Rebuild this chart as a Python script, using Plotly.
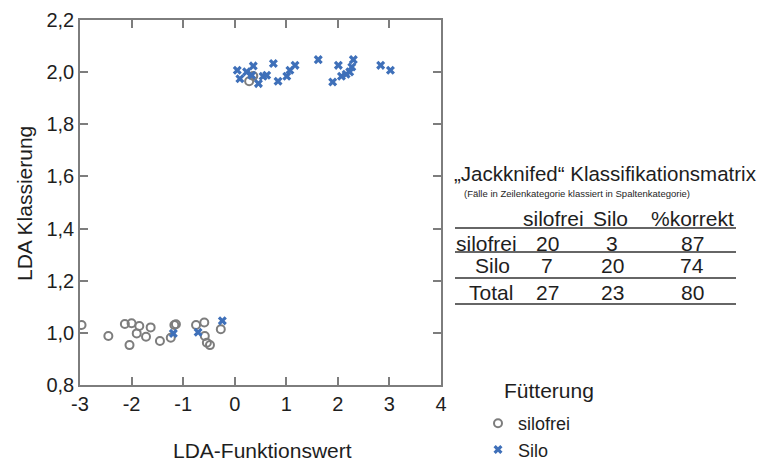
import plotly.graph_objects as go

# ---- data ----
silofrei_x = [-2.97, -2.45, -2.13, -2.00, -2.04, -1.85, -1.90, -1.72, -1.63, -1.45,
              -1.24, -1.17, -1.14, -0.75, -0.59, -0.58, -0.54, -0.48, -0.27, 0.28, 0.36]
silofrei_y = [1.030, 0.988, 1.034, 1.037, 0.953, 1.026, 0.998, 0.985, 1.021, 0.969,
              0.981, 1.030, 1.033, 1.030, 1.040, 0.988, 0.962, 0.953, 1.014, 1.965, 1.985]

silo_x = [-1.19, -0.71, -0.24,
          0.05, 0.10, 0.23, 0.36, 0.33, 0.46, 0.55, 0.62, 0.75, 0.84, 1.01, 1.07, 1.17,
          1.62, 1.90, 2.01, 2.07, 2.16, 2.23, 2.27, 2.30, 2.83, 3.02]
silo_y = [0.998, 1.002, 1.046,
          2.007, 1.975, 2.001, 2.024, 1.988, 1.956, 1.984, 1.988, 2.033, 1.965, 1.984, 2.007, 2.026,
          2.048, 1.962, 2.026, 1.984, 1.992, 2.001, 2.020, 2.048, 2.026, 2.007]

x_ticks = [-3, -2, -1, 0, 1, 2, 3, 4]
x_ticktext = ["-3", "-2", "-1", "0", "1", "2", "3", "4"]
y_ticks = [0.8, 1.0, 1.2, 1.4, 1.6, 1.8, 2.0, 2.2]

x_title = "LDA-Funktionswert"
y_title = "LDA Klassierung"
legend_title = "Fütterung"

matrix_title = "„Jackknifed“ Klassifikationsmatrix"
matrix_subtitle = "(Fälle in Zeilenkategorie klassiert in Spaltenkategorie)"
matrix_cols = ["silofrei", "Silo", "%korrekt"]
matrix_rows = ["silofrei", "Silo", "Total"]
matrix_vals = [[20, 3, 87], [7, 20, 74], [27, 23, 80]]

FONT = "Arial, Liberation Sans, sans-serif"
GRAY = "#7d7d7d"
BLUE = "#3f70b9"
TXT = "#1e1e1e"

W, H = 773, 462
L, R, T, B = 80, 441, 20, 385


def px(x):
    return (x - L) / (R - L)


def py(y):
    return (B - y) / (B - T)


fig = go.Figure()
fig.add_trace(go.Scatter(
    x=silofrei_x, y=silofrei_y, mode="markers", name="silofrei",
    marker=dict(symbol="circle-open", size=8, color=GRAY, line=dict(width=2, color=GRAY))))
fig.add_trace(go.Scatter(
    x=silo_x, y=silo_y, mode="markers", name="Silo",
    marker=dict(symbol="x", size=8, color=BLUE, line=dict(width=0))))

axis_common = dict(showline=True, linecolor=GRAY, linewidth=1.5, mirror="allticks",
                   ticks="inside", ticklen=8, tickcolor=GRAY, tickwidth=1.5,
                   showgrid=False, zeroline=False, automargin=False,
                   tickfont=dict(family=FONT, size=20, color=TXT))

fig.update_xaxes(range=[-3, 4], tickvals=x_ticks, ticktext=x_ticktext, **axis_common)
fig.update_yaxes(range=[0.8, 2.2], tickvals=y_ticks, tickformat=".1f", **axis_common)

annotations = []
shapes = []


def txt(text, x, y, size, xanchor="center", angle=0):
    annotations.append(dict(text=text, x=px(x), y=py(y), xref="paper", yref="paper",
                            xanchor=xanchor, yanchor="middle", showarrow=False, textangle=angle,
                            font=dict(family=FONT, size=size, color=TXT)))


txt(x_title, 262, 450, 21)
txt(y_title, 25, 204, 21, angle=-90)
txt(legend_title, 502, 390, 21, xanchor="left")

txt(matrix_title, 452, 173, 20.5, xanchor="left")
txt(matrix_subtitle, 462, 193, 9.5, xanchor="left")

header_x = [553, 610, 692]
value_x = [547, 612, 692]
row_label_x = [487, 492, 491]
header_y = 218
row_y = [243, 265, 292]
line_y = [228, 252, 278, 304]
for cx, c in zip(header_x, matrix_cols):
    txt(c, cx, header_y, 21)
for ry, rx, rlab, vals in zip(row_y, row_label_x, matrix_rows, matrix_vals):
    txt(rlab, rx, ry, 21)
    for cx, v in zip(value_x, vals):
        txt(str(v), cx, ry, 21)
for ly in line_y:
    shapes.append(dict(type="line", xref="paper", yref="paper", x0=px(455), x1=px(736),
                       y0=py(ly), y1=py(ly), line=dict(color="#333333", width=1.5)))

fig.update_layout(
    width=W, height=H,
    margin=dict(l=L, r=W - R, t=T, b=H - B, autoexpand=False),
    paper_bgcolor="white", plot_bgcolor="white",
    separators=",.",
    font=dict(family=FONT, size=20, color=TXT),
    annotations=annotations, shapes=shapes,
    legend=dict(x=px(478), y=py(405), xanchor="left", yanchor="top",
                font=dict(family=FONT, size=18, color=TXT),
                tracegroupgap=0, bgcolor="rgba(0,0,0,0)", borderwidth=0),
)

fig.write_html("out.html", config={"displayModeBar": False},
               post_script="document.body.style.margin='0px';document.body.style.overflow='hidden';")
